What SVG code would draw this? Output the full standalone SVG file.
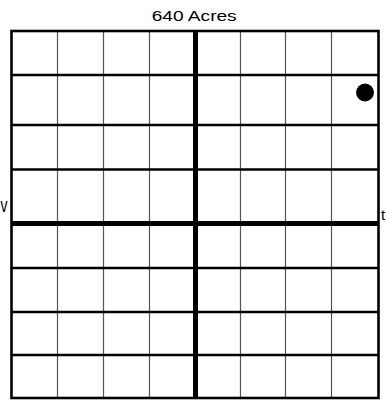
<svg xmlns="http://www.w3.org/2000/svg" width="386" height="400" viewBox="0 0 386 400">
  <style>
    .thin { stroke: #555; stroke-width: 1.2; fill: none; }
    .hmid { stroke: #000; stroke-width: 2.6; fill: none; }
    .border { stroke: #000; stroke-width: 2.6; fill: none; }
    .center { stroke: #000; stroke-width: 5; fill: none; }
    .label { font-family: "Liberation Sans", Arial, sans-serif; fill: #000; }
  </style>
  <rect width="386" height="400" fill="#fff"/>
  <g id="grid">
    <g class="thin">
      <line x1="57.5" y1="31" x2="57.5" y2="398"/>
      <line x1="103.5" y1="31" x2="103.5" y2="398"/>
      <line x1="149.5" y1="31" x2="149.5" y2="398"/>
      <line x1="240.5" y1="31" x2="240.5" y2="398"/>
      <line x1="285.5" y1="31" x2="285.5" y2="398"/>
      <line x1="331.5" y1="31" x2="331.5" y2="398"/>
    </g>
    <g class="hmid">
      <line x1="11.5" y1="75" x2="378.5" y2="75"/>
      <line x1="11.5" y1="125" x2="378.5" y2="125"/>
      <line x1="11.5" y1="169.5" x2="378.5" y2="169.5"/>
      <line x1="11.5" y1="268" x2="378.5" y2="268"/>
      <line x1="11.5" y1="312" x2="378.5" y2="312"/>
      <line x1="11.5" y1="355" x2="378.5" y2="355"/>
    </g>
    <line class="center" x1="195.5" y1="31" x2="195.5" y2="398"/>
    <line class="center" x1="11.5" y1="223.5" x2="378.5" y2="223.5" stroke-width="4"/>
    <rect class="border" x="11.5" y="31" width="367" height="367"/>
  </g>
  <circle id="dot" cx="365" cy="92.5" r="9" fill="#000"/>
  <text class="label" x="194.2" y="20.5" font-size="14" text-anchor="middle" textLength="85" lengthAdjust="spacingAndGlyphs">640 Acres</text>
  <text class="label" x="0.5" y="212" font-size="20" textLength="7" lengthAdjust="spacingAndGlyphs">v</text>
  <text class="label" x="381" y="220" font-size="15">t</text>
</svg>
